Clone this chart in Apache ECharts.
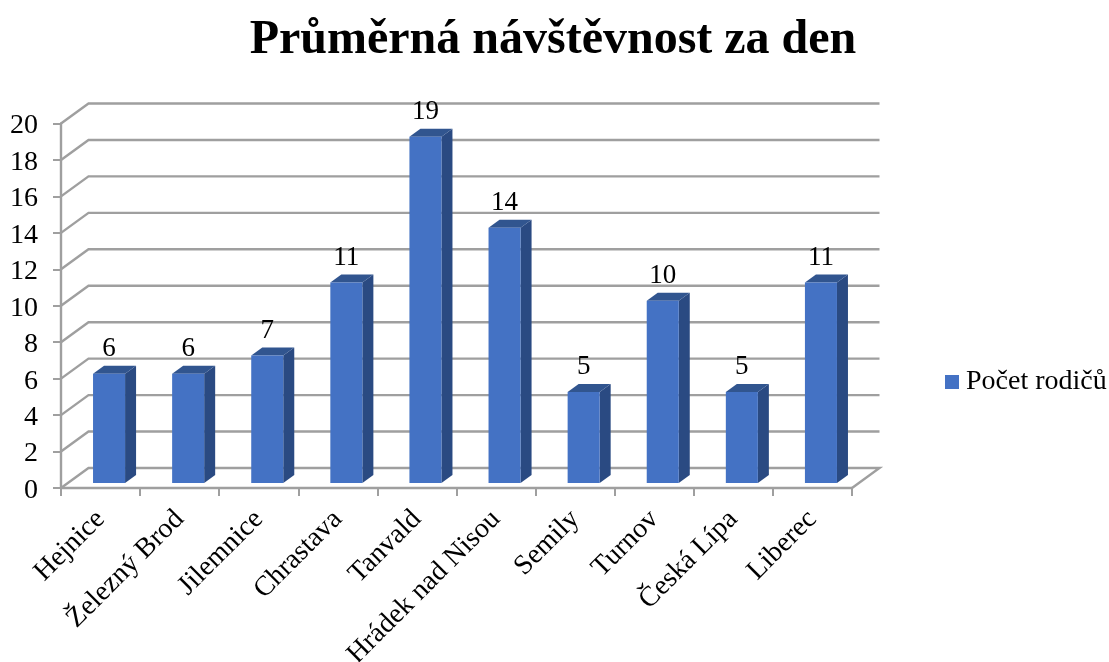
<!DOCTYPE html>
<html><head><meta charset="utf-8">
<style>html,body{margin:0;padding:0;background:#fff}#c{width:1109px;height:662px}</style>
<script src="https://cdn.jsdelivr.net/npm/echarts@6/dist/echarts.min.js"></script>
</head><body><div id="c"></div>
<script>
const categories = ['Hejnice','Železný Brod','Jilemnice','Chrastava','Tanvald','Hrádek nad Nisou','Semily','Turnov','Česká Lípa','Liberec'];
const values = [6,6,7,11,19,14,5,10,5,11];
const ticks = [0,2,4,6,8,10,12,14,16,18,20];
const seriesName = 'Počet rodičů';
const titleText = 'Průměrná návštěvnost za den';

const FONT = '"Liberation Serif","Times New Roman",serif';
const GRAY = '#9f9f9f';
// oblique projection of the 3D floor
const WALL = [27.5, -20], BAR_FRONT = [8.5, -5], BAR_DEPTH = [11, -8];

const chart = echarts.init(document.getElementById('c'), null, {renderer:'canvas'});

function wall(params, api){
  const v = api.value(1), band = api.size([1,0])[0];
  const first = api.coord([0, v]), last = api.coord([categories.length-1, v]);
  const x0 = first[0]-band/2, x1 = last[0]+band/2, y = first[1];
  const pts = [[x0,y],[x0+WALL[0],y+WALL[1]],[x1+WALL[0],y+WALL[1]]];
  if (v === 0) pts.push([x1,y]);
  return {type:'polyline', shape:{points:pts}, style:{fill:'none', stroke:GRAY, lineWidth:2.4}};
}
function bar(params, api){
  const band = api.size([1,0])[0], w = band*0.405;
  const top = api.coord([api.value(0), api.value(1)]), base = api.coord([api.value(0), 0]);
  const xl = top[0]-w/2+BAR_FRONT[0], xr = xl+w, yt = top[1]+BAR_FRONT[1], yb = base[1]+BAR_FRONT[1];
  const dx = BAR_DEPTH[0], dy = BAR_DEPTH[1];
  return {type:'group', children:[
    {type:'polygon', shape:{points:[[xr,yt],[xr+dx,yt+dy],[xr+dx,yb+dy],[xr,yb]]}, style:{fill:'#2a4a82'}},
    {type:'polygon', shape:{points:[[xl,yt],[xl+dx,yt+dy],[xr+dx,yt+dy],[xr,yt]]}, style:{fill:'#31558f'}},
    {type:'rect', shape:{x:xl,y:yt,width:w,height:yb-yt}, style:{fill:'#4472c4'}},
    {type:'text', style:{text:String(api.value(1)), x:(xl+xr)/2, y:yt+dy-16.5, align:'center', verticalAlign:'middle',
      font:'27px '+FONT, fill:'#000'}}
  ]};
}

chart.setOption({
  animation:false,
  backgroundColor:'#fff',
  title:{text:titleText, left:548, top:12, textAlign:'center',
    textStyle:{fontFamily:FONT, fontWeight:'bold', fontSize:48, color:'#000'}},
  legend:{data:[{name:seriesName, icon:'rect'}], left:940, top:363, itemWidth:14, itemHeight:14, itemGap:17,
    selectedMode:false, textStyle:{fontFamily:FONT, fontSize:28, color:'#000', padding:[0,0,0,2]}},
  grid:{left:61, right:257, top:123.5, bottom:174, containLabel:false, outerBoundsMode:'none'},
  xAxis:{type:'category', data:categories,
    axisLine:{lineStyle:{color:GRAY,width:2.4}},
    axisTick:{show:true,length:8,lineStyle:{color:GRAY,width:2}},
    axisLabel:{rotate:45, interval:0, margin:27, fontFamily:FONT, fontSize:28, color:'#000'}},
  yAxis:{type:'value', min:0, max:20, interval:2,
    axisLine:{show:true,lineStyle:{color:GRAY,width:2.4}},
    axisTick:{show:true,length:8,lineStyle:{color:GRAY,width:2}},
    splitLine:{show:false},
    axisLabel:{margin:23, formatter:'{n|{value}}', color:'#000',
      rich:{n:{fontFamily:FONT, fontSize:28, color:'#000', lineHeight:28, padding:[5,0,0,0]}}}},
  series:[
    {type:'custom', silent:true, z:1, renderItem:wall, encode:{x:0,y:1}, data:ticks.map(t=>[0,t])},
    {type:'custom', name:seriesName, z:3, itemStyle:{color:'#4472c4'}, renderItem:bar, encode:{x:0,y:1},
      data:values.map((v,i)=>[i,v])}
  ]
});
</script></body></html>
